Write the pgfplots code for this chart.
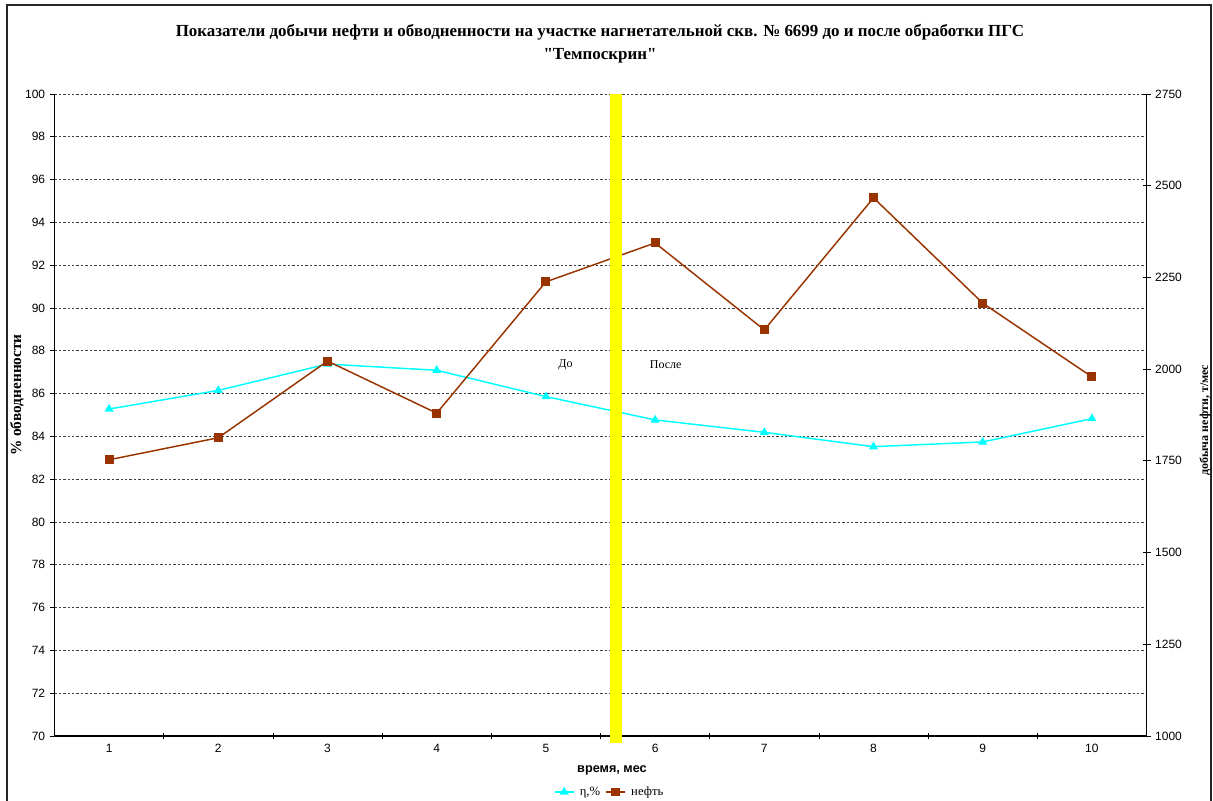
\documentclass[border=0pt]{standalone}
\usepackage{fontspec}
\setmainfont{Liberation Serif}[Ligatures=TeXOff]
\setsansfont{Liberation Sans}
\usepackage{pgfplots}
\pgfplotsset{compat=1.18}
\definecolor{cyanl}{RGB}{0,255,255}
\definecolor{brn}{RGB}{153,51,0}
\definecolor{yel}{RGB}{255,255,0}
\begin{document}
\begin{tikzpicture}
\useasboundingbox (0,0) rectangle (909.75pt,600pt);
\draw[black!85, line width=1.2pt] (5.25pt,-10pt) rectangle (908.25pt,596.25pt);
\node[font=\bfseries\fontsize{12.7}{17}\selectfont, align=center] at (450pt,567.4pt)
 {Показатели добычи нефти и обводненности на участке нагнетательной скв. № 6699 до и после обработки ПГС\\"Темпоскрин"};
\begin{axis}[
  at={(40.875pt,48pt)}, anchor=south west, scale only axis,
  width=819pt, height=481.5pt,
  xmin=0.5, xmax=10.5, ymin=70, ymax=100,
  axis x line*=bottom, axis y line*=left,
  axis line style={black, line width=0.8pt},
  xtick={1,...,10}, major x tick style={draw=none},
  minor xtick={1.5,2.5,...,9.5},
  minor x tick style={black, line width=0.6pt},
  minor tick length=5pt,
  xtick align=center,
  ytick={70,72,...,100},
  y tick style={black, line width=0.6pt},
  major tick length=3.5pt,
  ytick align=outside,
  ymajorgrids,
  grid style={dash pattern=on 1.8pt off 1.5pt, black!75, line width=0.6pt},
  /pgf/number format/assume math mode=true,
  tick label style={font=\sffamily\fontsize{9}{10}\selectfont, black},
  xticklabel style={yshift=-1pt},
  xlabel={\sffamily\bfseries время, мес},
  xlabel style={font=\fontsize{9.5}{11}\selectfont, at={(axis description cs:0.5105,-0.053)}, anchor=center},
  ylabel={\bfseries \% обводненности},
  ylabel style={font=\fontsize{11.5}{12}\selectfont, at={(axis description cs:-0.0343,0.531)}, anchor=center, rotate=0},
]
\addplot[cyanl, line width=1.1pt, mark=triangle*, mark size=2.8pt, mark options={solid}]
 coordinates {(1,85.28) (2,86.15) (3,87.38) (4,87.09) (5,85.86) (6,84.77) (7,84.19) (8,83.52) (9,83.74) (10,84.83)};
\end{axis}
\begin{axis}[
  at={(40.875pt,48pt)}, anchor=south west, scale only axis,
  width=819pt, height=481.5pt,
  xmin=0.5, xmax=10.5, ymin=1000, ymax=2750,
  axis x line=none, axis y line*=right,
  axis line style={black, line width=0.8pt},
  ytick={1000,1250,...,2750},
  y tick style={black, line width=0.6pt},
  major tick length=6pt, tick align=center,
  /pgf/number format/assume math mode=true,
  /pgf/number format/1000 sep={},
  tick label style={font=\sffamily\fontsize{9}{10}\selectfont, black},
  ylabel={\bfseries добыча нефти, т/мес},
  ylabel style={font=\fontsize{9}{11}\selectfont, at={(axis description cs:1.0536,0.492)}, anchor=center, rotate=0},
  clip=false,
  legend style={at={(axis description cs:0.5087,-0.0872)}, anchor=center, draw=none, fill=none,
    font=\fontsize{9.5}{11}\selectfont, legend columns=2, column sep=2pt,
    /tikz/every even column/.append style={column sep=2pt}},
  legend image code/.code={\draw[mark repeat=2,mark phase=2] plot coordinates {(0cm,0cm) (0.25cm,0cm) (0.5cm,0cm)};},
]
\addlegendimage{cyanl, line width=1.1pt, mark=triangle*, mark size=2.8pt, mark options={solid}}
\addlegendentry{η,\%}
\addplot[brn, line width=1.1pt, mark=square*, mark size=2.8pt, mark options={solid}]
 coordinates {(1,1753) (2,1813) (3,2022) (4,1880) (5,2238) (6,2344) (7,2107) (8,2467) (9,2180) (10,1979)};
\addlegendentry{нефть}
\addplot[yel, line width=8.8pt, forget plot] coordinates {(5.64,981) (5.64,2750)};
\node[font=\fontsize{9}{10}\selectfont, anchor=center] at (axis cs:5.18,2011) {До};
\node[font=\fontsize{9}{10}\selectfont, anchor=west, inner sep=0pt] at (axis cs:5.95,2011) {После};
\end{axis}
\end{tikzpicture}
\end{document}
